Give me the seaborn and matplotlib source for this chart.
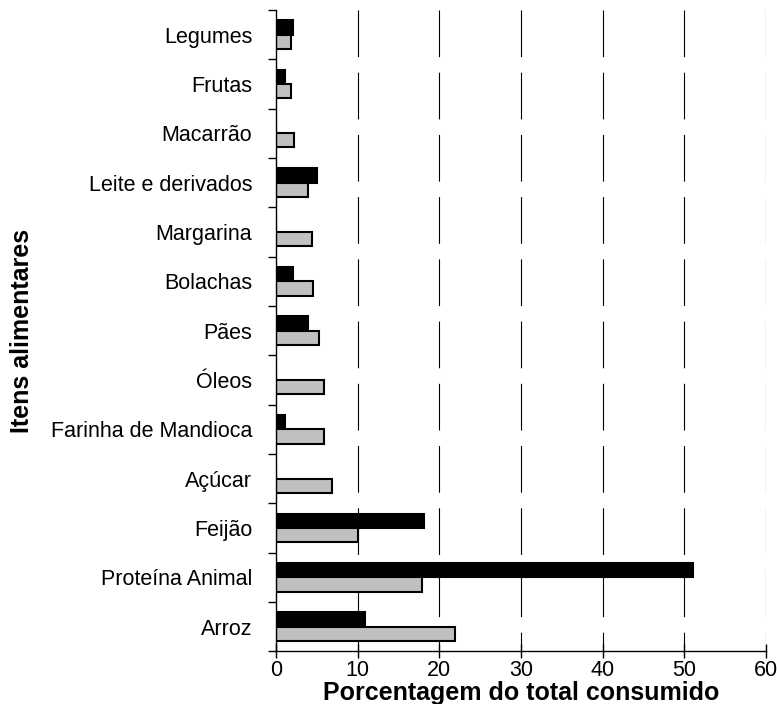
import numpy as np
import pandas as pd
import matplotlib
matplotlib.use("Agg")
import matplotlib.pyplot as plt
import seaborn as sns

# Food items (top to bottom) and percentages
itens = ["Legumes", "Frutas", "Macarrão", "Leite e derivados", "Margarina",
         "Bolachas", "Pães", "Óleos", "Farinha de Mandioca", "Açúcar",
         "Feijão", "Proteína Animal", "Arroz"]
serie_preta = [2.1, 1.1, 0.0, 5.0, 0.0, 2.1, 3.9, 0.0, 1.1, 0.0, 18.1, 51.1, 10.9]
serie_cinza = [1.8, 1.8, 2.2, 3.9, 4.4, 4.6, 5.3, 5.9, 5.9, 6.9, 10.0, 17.9, 21.9]
grupos = ["Série 1", "Série 2"]
x_ticks = [0, 10, 20, 30, 40, 50, 60]

df = pd.DataFrame({
    "Item": itens * 2,
    "Valor": serie_preta + serie_cinza,
    "Grupo": [grupos[0]] * len(itens) + [grupos[1]] * len(itens),
})

sns.set_style("white")
plt.rcParams["font.family"] = ["Liberation Sans", "DejaVu Sans"]
plt.rcParams["text.color"] = "black"
plt.rcParams["axes.labelcolor"] = "black"
plt.rcParams["xtick.color"] = "black"
plt.rcParams["ytick.color"] = "black"

fig, ax = plt.subplots(figsize=(7.77, 7.04), dpi=100)
fig.subplots_adjust(left=0.355, right=0.986, top=0.986, bottom=0.075)

# dashed vertical grid, drawn from the top down
for xv in x_ticks[1:]:
    ax.plot([xv, xv], [-0.5, len(itens) - 0.5], color="black", lw=0.8,
            dashes=(42, 14), zorder=0)

sns.barplot(data=df, y="Item", x="Valor", hue="Grupo", order=itens,
            hue_order=grupos, palette=["black", "#C0C0C0"], orient="h",
            width=0.58, edgecolor="black", linewidth=1.5, ax=ax,
            legend=False, zorder=2)

ax.set_xlim(0, 60)
ax.set_ylim(len(itens) - 0.5, -0.5)
ax.set_xticks(x_ticks)
ax.set_xticklabels([str(v) for v in x_ticks], fontsize=15.5)
ax.tick_params(axis="x", bottom=True, direction="inout", length=10, width=1, pad=1)
ax.tick_params(axis="y", which="major", left=False, length=0, pad=17, labelsize=15.5)
ax.set_yticks(np.arange(-0.5, len(itens)), minor=True)
ax.tick_params(axis="y", which="minor", left=True, direction="out", length=6, width=1)

for s in ["top", "right"]:
    ax.spines[s].set_visible(False)
for s in ["left", "bottom"]:
    ax.spines[s].set_color("black")
    ax.spines[s].set_linewidth(1.0)

ax.set_xlabel("Porcentagem do total consumido", fontsize=18, fontweight="bold",
              labelpad=0)
ax.set_ylabel("Itens alimentares", fontsize=18, fontweight="bold", labelpad=12)

fig.savefig("out.png", dpi=100)
